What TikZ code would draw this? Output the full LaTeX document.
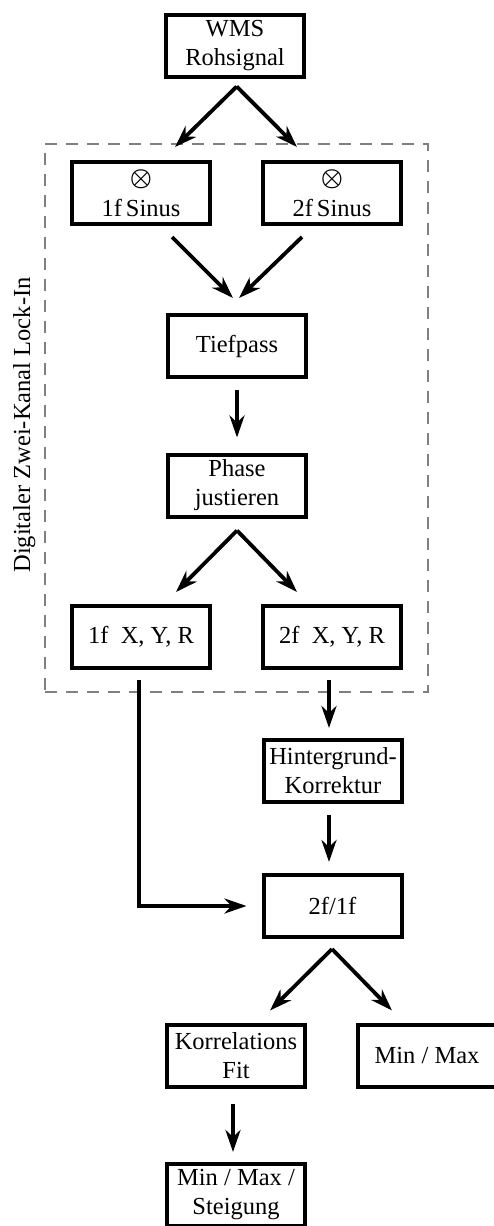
\documentclass[tikz,border=0pt]{standalone}
\usepackage{fontspec}
\setmainfont{Liberation Serif}
\usetikzlibrary{arrows.meta,calc,fit}

\newcommand{\mixsym}{{\boldmath$\otimes$}}

\tikzset{
  x=1pt, y=-1pt,
  lbl/.style={font=\fontsize{24.5}{29}\selectfont},
  box/.style={lbl, draw, line width=4pt, minimum width=138pt, minimum height=62pt,
              align=center, inner sep=0pt},
  arr/.style={line width=3.8pt, -{Stealth[length=22pt,width=15pt,inset=7pt]}},
  link/.style={line width=3.8pt},
  frame/.style={draw=black!50, line width=2.6pt, dash pattern=on 12pt off 9pt, inner sep=0pt},
}

\begin{document}
\begin{tikzpicture}
  \useasboundingbox (0,0) rectangle (494,1226);
  \clip (0,0) rectangle (494,1226);

  % lock-in frame and its label
  \coordinate (fa) at (45,144);
  \coordinate (fb) at (428,692);
  \node[frame, fit=(fa)(fb)] (lockin) {};
  \node[lbl, rotate=90, anchor=base] (lockinlbl) at (30,425) {Digitaler Zwei-Kanal Lock-In};

  % processing blocks
  \node[box] (wms) at (235,45.5) {WMS\\Rohsignal};
  \node[box] (s1)  at (141,193)  {\mixsym\\[2pt]1f\,Sinus};
  \node[box] (s2)  at (332,193)  {\mixsym\\[2pt]2f\,Sinus};
  \node[box] (tp)  at (237,346)  {Tiefpass};
  \node[box] (ph)  at (237,485.5) {Phase\\justieren};
  \node[box] (x1)  at (141,637)  {1f~~X, Y, R};
  \node[box] (x2)  at (332,637)  {2f~~X, Y, R};
  \node[box] (hg)  at (333,771)  {Hintergrund-\\Korrektur};
  \node[box] (rt)  at (332.5,906) {2f/1f};
  \node[box] (kf)  at (236,1055.5) {Korrelations\\Fit};
  \node[box] (mm)  at (427,1055.5) {Min / Max};
  \node[box] (st)  at (236,1195) {Min / Max /\\Steigung};

  % signal split into the two mixers
  \coordinate (wmsout) at ($(wms.south)+(1.7,8)$);
  \draw[arr] (wmsout) -- ($(s1.north)+(34,-13)$);
  \draw[arr] (wmsout) -- ($(s2.north)+(-35,-13)$);

  % mixers into the low pass
  \draw[arr] ($(s1.south)+(31,11)$) -- ($(tp.north)+(-4,-15)$);
  \draw[arr] ($(s2.south)+(-30,11)$) -- ($(tp.north)+(2,-15)$);

  % low pass to phase adjustment
  \draw[arr] ($(tp.south)+(0,11)$) -- ($(ph.north)+(0,-15)$);

  % phase adjustment to both outputs
  \coordinate (phout) at ($(ph.south)+(0,12)$);
  \draw[arr] (phout) -- ($(x1.north)+(35,-12)$);
  \draw[arr] (phout) -- ($(x2.north)+(-35,-12)$);

  % 1f path around to the ratio
  \coordinate (x1out) at ($(x1.south)+(-2,10)$);
  \coordinate (bend) at (x1out |- rt.west);
  \draw[link] (x1out) -- (bend);
  \draw[arr] ([xshift=-1.9pt]bend) -- ($(rt.west)+(-15,0)$);

  % 2f path through background correction
  \draw[arr] ($(x2.south)+(-3,10)$) -- ($(hg.north)+(-4,-10)$);
  \draw[arr] ($(hg.south)+(-4,11)$) -- ($(rt.north)+(-3.5,-11)$);

  % ratio to evaluation
  \coordinate (rtout) at ($(rt.south)+(-0.5,10)$);
  \draw[arr] (rtout) -- ($(kf.north)+(34,-12)$);
  \draw[arr] (rtout) -- ($(mm.north)+(-35,-12)$);

  % fit to result
  \draw[arr] ($(kf.south)+(-3,15)$) -- ($(st.north)+(-3,-10)$);
\end{tikzpicture}
\end{document}
